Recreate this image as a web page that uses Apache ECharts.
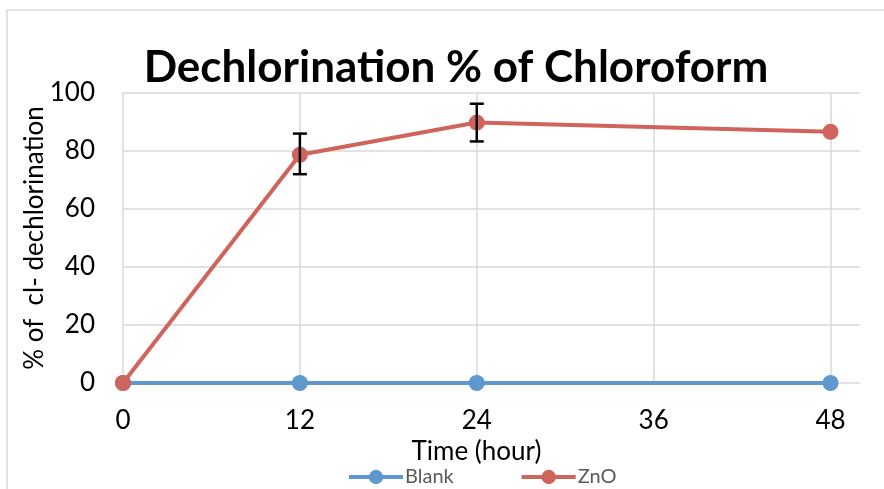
<!DOCTYPE html>
<html><head><meta charset="utf-8">
<script src="https://cdn.jsdelivr.net/npm/echarts@6/dist/echarts.min.js"></script>
<style>html,body{margin:0;padding:0;background:#fff}#c{width:884px;height:489px}</style>
</head><body><div id="c"></div>
<script>
const hours = [0, 12, 24, 48];
const blank = [0, 0, 0, 0];
const zno = [0, 78.7, 89.8, 86.6];
const znoErrLow = [null, 72.0, 83.3, null];
const znoErrHigh = [null, 86.0, 96.3, null];
const yTicks = [0, 20, 40, 60, 80, 100];
const xTicks = [0, 12, 24, 36, 48];

const font = "Lato, 'Open Sans', sans-serif";
const chart = echarts.init(document.getElementById('c'), null, {renderer: 'canvas'});
const errData = hours.map((h, i) => [h, znoErrLow[i], znoErrHigh[i]]).filter(d => d[1] != null);

chart.setOption({
  animation: false,
  backgroundColor: '#fff',
  graphic: [{type: 'rect', shape: {x: 7, y: 10, width: 900, height: 500},
    style: {fill: 'none', stroke: '#d9d9d9', lineWidth: 1.5}, silent: true, z: -1}],
  title: {text: 'Dechlorination % of Chloroform', left: 451, top: 41, textAlign: 'center',
    textStyle: {fontFamily: font, fontWeight: 'bold', fontSize: 44, color: '#000'}},
  grid: {left: 123, right: 24, top: 93, bottom: 106},
  legend: {top: 462, left: 342, itemWidth: 54, itemHeight: 18, itemGap: 66,
    data: ['Blank', 'ZnO'], lineStyle: {width: 4},
    textStyle: {fontFamily: font, fontSize: 20, color: '#595959', padding: [0, 0, 0, -3]}},
  xAxis: {type: 'value', min: 0, max: 50, interval: 12,
    name: 'Time (hour)', nameLocation: 'middle', nameGap: 40,
    nameTextStyle: {fontFamily: font, fontSize: 26, color: '#000', padding: [0, 30, 0, 0]},
    axisLine: {show: false}, axisTick: {show: false},
    axisLabel: {fontFamily: font, fontSize: 26, color: '#000', margin: 25, showMaxLabel: false,
      formatter: v => xTicks.includes(v) ? String(v) : ''},
    splitLine: {show: true, showMaxLine: false, lineStyle: {color: '#d9d9d9', width: 1.5}}},
  yAxis: {type: 'value', min: 0, max: 100, interval: 20,
    name: '% of  cl- dechlorination', nameLocation: 'middle', nameGap: 75, nameRotate: 90,
    nameMoveOverlap: false,
    nameTextStyle: {fontFamily: font, fontSize: 26, color: '#000'},
    axisLine: {show: false}, axisTick: {show: false},
    axisLabel: {fontFamily: font, fontSize: 26, color: '#000', margin: 28,
      formatter: v => yTicks.includes(v) ? String(v) : ''},
    splitLine: {show: true, lineStyle: {color: '#d9d9d9', width: 1.5}}},
  series: [
    {name: 'Blank', type: 'line', data: hours.map((h, i) => [h, blank[i]]),
      symbol: 'circle', symbolSize: 16, color: '#5f97cf', lineStyle: {width: 4, color: '#5f97cf'}, z: 3},
    {name: 'ZnO', type: 'line', data: hours.map((h, i) => [h, zno[i]]),
      symbol: 'circle', symbolSize: 16, color: '#cf645c', lineStyle: {width: 4, color: '#cf645c'}, z: 4},
    {name: 'err', type: 'custom', data: errData, z: 5,
      renderItem: (params, api) => {
        const x = api.value(0);
        const lo = api.coord([x, api.value(1)]);
        const hi = api.coord([x, api.value(2)]);
        const w = 7;
        const st = {stroke: '#000', lineWidth: 2.5};
        return {type: 'group', children: [
          {type: 'line', shape: {x1: lo[0], y1: lo[1], x2: hi[0], y2: hi[1]}, style: st},
          {type: 'line', shape: {x1: lo[0] - w, y1: lo[1], x2: lo[0] + w, y2: lo[1]}, style: st},
          {type: 'line', shape: {x1: hi[0] - w, y1: hi[1], x2: hi[0] + w, y2: hi[1]}, style: st}
        ]};
      }}
  ]
});
</script></body></html>
